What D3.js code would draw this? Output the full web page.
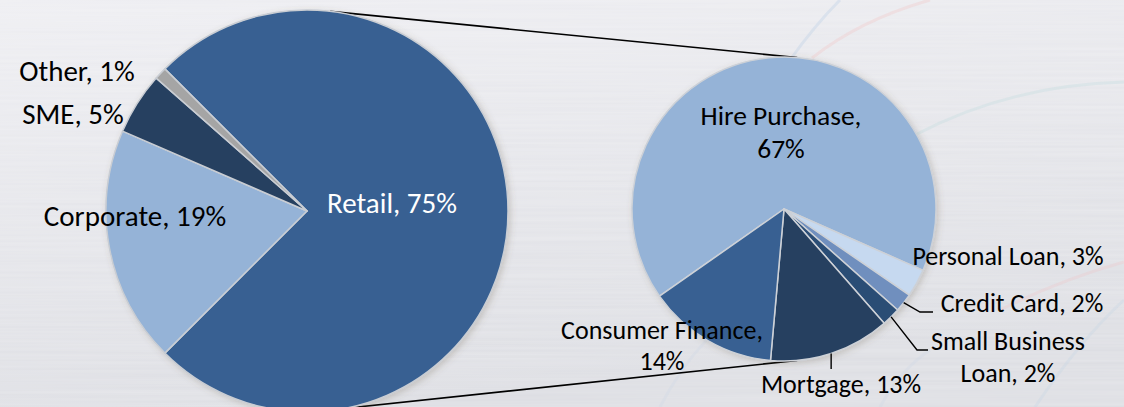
<!DOCTYPE html>
<html>
<head>
<meta charset="utf-8">
<script src="https://cdn.jsdelivr.net/npm/d3@7"></script>
<style>
  html, body { margin: 0; padding: 0; background: #e6e7eb; }
  svg { display: block; }
  text { font-family: Carlito, "Open Sans", Lato, sans-serif; }
</style>
</head>
<body>
<svg id="chart" width="1124" height="407"></svg>
<script>
// Loan book by segment (first pie) and breakdown of the Retail slice (second pie)
const mainCategories = ["Retail", "Corporate", "SME", "Other"];
const mainShares = [75, 19, 5, 1];

const retailCategories = ["Hire Purchase", "Personal Loan", "Credit Card", "Small Business Loan", "Mortgage", "Consumer Finance"];
const retailShares = [67, 3, 2, 2, 13, 14];

const mainColors = {
  "Retail": "#376092",
  "Corporate": "#95b3d7",
  "SME": "#254061",
  "Other": "#a5a5a5"
};
const retailColors = {
  "Hire Purchase": "#95b3d7",
  "Personal Loan": "#c6d9f0",
  "Credit Card": "#6f8fbe",
  "Small Business Loan": "#2c4d75",
  "Mortgage": "#254061",
  "Consumer Finance": "#376092"
};

const W = 1124, H = 407;
const svg = d3.select("#chart");
const deg = Math.PI / 180;

// ---------- background ----------
const defs = svg.append("defs");
const bg = defs.append("linearGradient").attr("id", "bg").attr("x1", 0).attr("y1", 0).attr("x2", 0.3).attr("y2", 1);
bg.append("stop").attr("offset", "0%").attr("stop-color", "#eeeef2");
bg.append("stop").attr("offset", "100%").attr("stop-color", "#dddee3");

const brushed = defs.append("filter").attr("id", "brushed").attr("x", 0).attr("y", 0).attr("width", "100%").attr("height", "100%");
brushed.append("feTurbulence").attr("type", "fractalNoise").attr("baseFrequency", "0.003 0.35").attr("numOctaves", 2).attr("seed", 4);
brushed.append("feColorMatrix").attr("type", "matrix")
  .attr("values", "0 0 0 0 1  0 0 0 0 1  0 0 0 0 1  0 0 0 0.3 -0.05");

const shadow = defs.append("filter").attr("id", "shadow").attr("x", "-10%").attr("y", "-10%").attr("width", "120%").attr("height", "120%");
shadow.append("feDropShadow").attr("dx", 2).attr("dy", 2).attr("stdDeviation", 3)
  .attr("flood-color", "#6b5a48").attr("flood-opacity", 0.25);

svg.append("rect").attr("width", W).attr("height", H).attr("fill", "url(#bg)");
svg.append("rect").attr("width", W).attr("height", H).attr("filter", "url(#brushed)");

// faint decorative swooshes
const swoosh = svg.append("g").attr("fill", "none").attr("stroke-width", 3);
[
  ["M 790 60 Q 815 25 840 0", "#b9cfe6", 0.35],
  ["M 812 58 Q 860 20 930 0", "#f2c0c0", 0.3],
  ["M 915 135 Q 1010 85 1124 82", "#c4dde0", 0.35],
  ["M 1000 310 Q 1060 280 1124 262", "#f0c4c8", 0.3],
  ["M 1035 407 Q 1080 340 1124 300", "#c5d4e6", 0.3],
  ["M 880 407 Q 900 370 930 350", "#c5d4e6", 0.2],
  ["M 660 407 Q 700 330 760 300", "#c5d4e6", 0.2]
].forEach(([d, c, o]) => swoosh.append("path").attr("d", d).attr("stroke", c).attr("stroke-opacity", o));

// ---------- geometry ----------
const left = { cx: 307, cy: 211, r: 201 };
const right = { cx: 784, cy: 209, r: 152 };

const pointOn = (p, a, rr = p.r) => [p.cx + rr * Math.sin(a), p.cy - rr * Math.cos(a)];

// connector (series) lines between the two pies
const connectors = svg.append("g").attr("stroke", "#000").attr("stroke-width", 1.6);
[[6.6, 5], [169, 175]].forEach(([aL, aR]) => {
  const p1 = pointOn(left, aL * deg), p2 = pointOn(right, aR * deg);
  connectors.append("line").attr("x1", p1[0]).attr("y1", p1[1]).attr("x2", p2[0]).attr("y2", p2[1]);
});

// ---------- first pie ----------
const mainData = mainCategories.map((c, i) => ({ name: c, value: mainShares[i] }));
const mainPie = d3.pie().value(d => d.value).sort(null)
  .startAngle(-45 * deg).endAngle(315 * deg);
const mainArc = d3.arc().innerRadius(0).outerRadius(left.r);

const gL = svg.append("g").attr("transform", `translate(${left.cx},${left.cy})`).attr("filter", "url(#shadow)");
gL.selectAll("path").data(mainPie(mainData)).join("path")
  .attr("d", mainArc)
  .attr("fill", d => mainColors[d.data.name])
  .attr("stroke", "#c9cdd3").attr("stroke-width", 1.5).attr("stroke-linejoin", "round");

// ---------- second pie ----------
const retailData = retailCategories.map((c, i) => ({ name: c, value: retailShares[i] }));
const retailPie = d3.pie().value(d => d.value).sort(null)
  .startAngle(-125 * deg).endAngle(235 * deg);
const retailArc = d3.arc().innerRadius(0).outerRadius(right.r);
const retailArcs = retailPie(retailData);

const gR = svg.append("g").attr("transform", `translate(${right.cx},${right.cy})`).attr("filter", "url(#shadow)");
gR.selectAll("path").data(retailArcs).join("path")
  .attr("d", retailArc)
  .attr("fill", d => retailColors[d.data.name])
  .attr("stroke", "#cdd1d7").attr("stroke-width", 1.5).attr("stroke-linejoin", "round");

// ---------- labels ----------
const labelLayout = {
  "Other":               { x: 77,   y: 81,  size: 29,   lines: ["Other, 1%"] },
  "SME":                 { x: 73,   y: 124, size: 29,   lines: ["SME, 5%"] },
  "Corporate":           { x: 135,  y: 226, size: 29,   lines: ["Corporate, 19%"] },
  "Retail":              { x: 392,  y: 213, size: 29,   lines: ["Retail, 75%"], fill: "#ffffff" },
  "Hire Purchase":       { x: 781,  y: 125, size: 27.5, gap: 33, lines: ["Hire Purchase,", "67%"] },
  "Personal Loan":       { x: 1008, y: 265, size: 26,   lines: ["Personal Loan, 3%"] },
  "Credit Card":         { x: 1022, y: 312, size: 26,   lines: ["Credit Card, 2%"], leader: [[920, 312], [933, 312]] },
  "Small Business Loan": { x: 1008, y: 350, size: 26,   gap: 32, lines: ["Small Business", "Loan, 2%"], leader: [[917, 350], [928, 350]] },
  "Mortgage":            { x: 841,  y: 393, size: 26,   lines: ["Mortgage, 13%"], leaderDrop: 369 },
  "Consumer Finance":    { x: 662,  y: 339, size: 26,   gap: 31, lines: ["Consumer Finance,", "14%"] }
};

const labels = svg.append("g").attr("text-anchor", "middle");
mainData.concat(retailData).forEach(d => {
  const L = labelLayout[d.name];
  const t = labels.append("text").attr("x", L.x).attr("y", L.y)
    .attr("font-size", L.size).attr("fill", L.fill || "#000");
  L.lines.forEach((ln, i) => {
    t.append("tspan").attr("x", L.x).attr("dy", i === 0 ? 0 : L.gap).text(ln);
  });
});

// leader lines from the outer edge of small slices to their labels
const leaders = svg.append("g").attr("fill", "none").attr("stroke", "#000").attr("stroke-width", 1.4);
retailArcs.forEach(a => {
  const L = labelLayout[a.data.name];
  if (!L.leader && !L.leaderDrop) return;
  const mid = (a.startAngle + a.endAngle) / 2;
  const start = pointOn(right, mid);
  const pts = L.leader ? [start, ...L.leader] : [start, [start[0], L.leaderDrop]];
  leaders.append("path").attr("d", d3.line()(pts));
});
</script>
</body>
</html>
